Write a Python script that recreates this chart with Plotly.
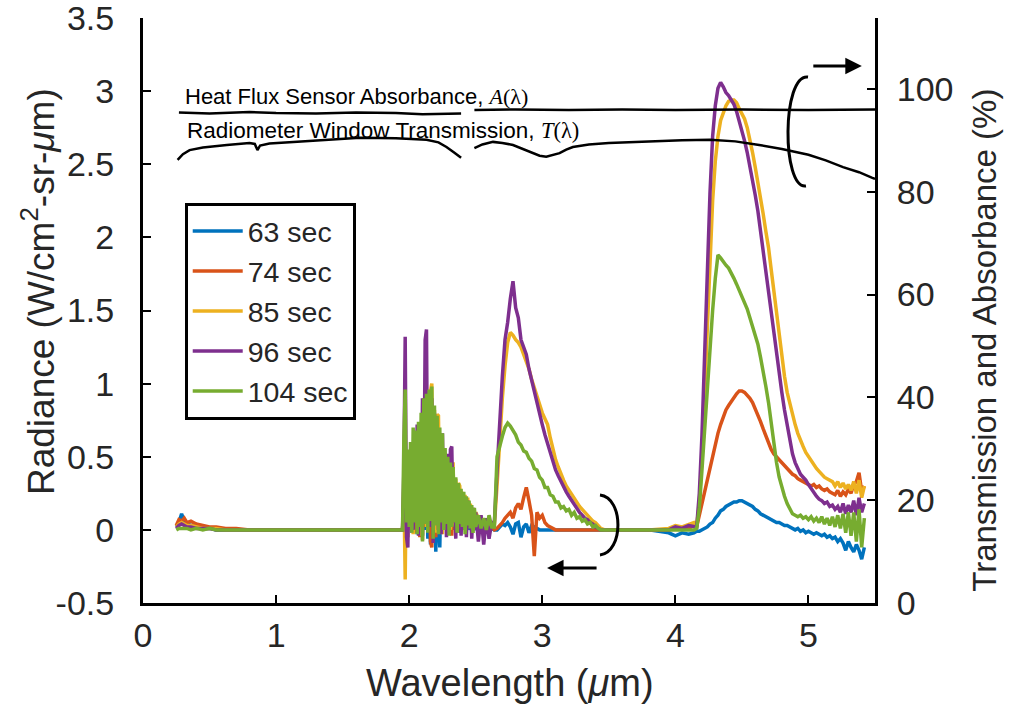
import plotly.graph_objects as go

# ---------------- wavelength grid (um), by spectral region ----------------
wl_a = [0.25, 0.27, 0.29, 0.31, 0.33, 0.36, 0.40, 0.45, 0.50, 0.55, 0.62, 0.70, 0.80, 0.90,
        1.20, 1.60, 1.94]
wl_b = [1.95, 1.96, 1.97, 1.98, 1.99, 2.00, 2.01, 2.02, 2.03, 2.04, 2.05, 2.06, 2.07, 2.08,
        2.09, 2.10, 2.11, 2.12, 2.13, 2.14, 2.15, 2.16, 2.17, 2.18, 2.19, 2.20, 2.21, 2.22,
        2.23, 2.24, 2.25, 2.26, 2.27, 2.28, 2.29, 2.30, 2.31, 2.32, 2.33, 2.34, 2.35, 2.36,
        2.37, 2.38, 2.39, 2.40, 2.41, 2.42, 2.43, 2.44, 2.45, 2.46, 2.47, 2.48, 2.49, 2.50,
        2.52, 2.54, 2.56, 2.58, 2.60, 2.62]
wl_c = [2.64, 2.66, 2.68, 2.70, 2.72, 2.74, 2.76, 2.78, 2.80, 2.82, 2.84, 2.86, 2.88, 2.90,
        2.92, 2.94, 2.96, 2.98, 3.00, 3.02, 3.04, 3.06, 3.08, 3.10, 3.12, 3.14, 3.16, 3.18,
        3.20, 3.22, 3.24, 3.26, 3.28, 3.30, 3.32, 3.34, 3.36, 3.38, 3.40, 3.42, 3.44]
wl_d = [3.47, 3.60, 3.80, 3.95, 4.00, 4.05, 4.10, 4.14]
wl_e = [4.16, 4.18, 4.20, 4.22, 4.24, 4.26, 4.28, 4.30, 4.32, 4.34, 4.36, 4.38, 4.40, 4.42,
        4.44, 4.46, 4.48, 4.50, 4.52, 4.54, 4.56, 4.58, 4.60, 4.62, 4.64, 4.66, 4.68, 4.70,
        4.72, 4.74, 4.76, 4.78, 4.80, 4.82, 4.84, 4.86, 4.88, 4.90, 4.92, 4.94, 4.96, 4.98,
        5.00, 5.02, 5.04, 5.06, 5.08, 5.10, 5.12, 5.14, 5.16, 5.18, 5.20, 5.22, 5.24, 5.26,
        5.28, 5.30, 5.32, 5.34, 5.36, 5.38, 5.40, 5.42]

# ---------------- radiance (W/cm2-sr-um) per time, per region ----------------
r63_a = [0.02, 0.05, 0.11, 0.06, 0.04, 0.03, 0.02, 0.01, 0.01, 0.00, 0.00, 0.00, 0.00, 0.00, 0.00, 0.00, 0.00]
r74_a = [0.03, 0.07, 0.06, 0.08, 0.05, 0.06, 0.04, 0.03, 0.02, 0.02, 0.01, 0.01, 0.00, 0.00, 0.00, 0.00, 0.00]
r85_a = [0.02, 0.04, 0.05, 0.04, 0.03, 0.03, 0.02, 0.01, 0.01, 0.01, 0.00, 0.00, 0.00, 0.00, 0.00, 0.00, 0.00]
r96_a = [0.01, 0.03, 0.04, 0.03, 0.02, 0.02, 0.01, 0.01, 0.01, 0.00, 0.00, 0.00, 0.00, 0.00, 0.00, 0.00, 0.00]
r104_a = [0.00, 0.01, 0.01, 0.01, 0.01, 0.00, 0.01, 0.00, 0.01, 0.00, 0.00, 0.00, 0.00, 0.00, 0.00, 0.00, 0.00]

r63_b = [0.00, 0.15, 0.30, 0.00, 0.30, 0.02, 0.35, -0.02, 0.40, 0.03, 0.42, -0.03, 0.45, 0.02,
         0.48, -0.04, 0.50, 0.00, 0.55, -0.06, 0.55, -0.10, 0.50, 0.02, 0.45, -0.15, 0.40, 0.03,
         -0.12, 0.35, 0.00, 0.30, 0.02, 0.25, -0.03, 0.22, 0.02, 0.20, 0.00, 0.18, 0.03, 0.15,
         -0.02, 0.12, 0.02, 0.10, 0.00, 0.08, 0.03, 0.07, 0.00, 0.05, 0.02, 0.04, 0.00, 0.03,
         0.02, 0.01, 0.03, 0.00, 0.02, 0.01]
r74_b = [0.00, 0.20, 0.40, 0.02, 0.35, 0.00, 0.40, 0.03, 0.45, -0.02, 0.50, 0.04, 0.55, -0.05,
         0.50, -0.07, 0.60, 0.02, 0.65, 0.05, 0.70, -0.08, -0.12, 0.60, 0.03, -0.05, 0.50, 0.02,
         0.45, -0.02, 0.40, 0.03, 0.35, 0.00, 0.30, 0.04, 0.28, -0.04, 0.25, 0.02, 0.20, 0.05,
         0.18, 0.01, 0.15, 0.03, 0.12, 0.00, 0.10, 0.02, 0.09, 0.03, 0.07, 0.00, 0.05, 0.02,
         0.02, 0.04, 0.00, 0.03, 0.01, 0.02]
r85_b = [0.00, 0.30, -0.34, 0.50, -0.05, 0.45, 0.02, 0.55, -0.03, 0.60, 0.05, 0.62, 0.00, 0.70,
         -0.04, 0.75, 0.05, 0.88, 0.02, 0.85, 0.06, 0.95, 1.00, 0.04, 0.82, -0.02, 0.79, 0.78,
         0.03, 0.60, -0.03, 0.55, 0.02, 0.50, 0.05, 0.46, 0.00, 0.45, 0.45, 0.03, 0.35, -0.02,
         0.32, 0.30, 0.04, 0.26, 0.02, 0.24, 0.00, 0.22, 0.03, 0.18, 0.01, 0.15, 0.03, 0.12,
         0.08, 0.02, 0.06, -0.02, 0.05, 0.02]
r96_b = [0.00, 0.40, 1.32, -0.05, -0.12, 0.45, 0.10, 0.55, 0.00, 0.62, 0.05, 0.72, -0.04, 0.65,
         0.10, 0.90, 0.20, 1.30, 1.37, 0.05, 0.85, 0.02, 0.90, -0.09, 0.80, 0.05, 0.70, 0.00,
         0.62, -0.03, 0.66, 0.04, 0.50, -0.05, 0.52, 0.02, 0.55, 0.57, 0.05, 0.30, -0.06, 0.28,
         0.03, 0.26, -0.04, 0.24, 0.02, 0.22, -0.05, 0.20, 0.02, 0.17, -0.06, 0.15, 0.00, 0.12,
         -0.08, 0.10, -0.10, 0.08, -0.06, 0.05]
r104_b = [0.00, 0.62, 0.96, 0.05, 0.55, 0.02, 0.60, -0.02, 0.70, 0.05, 0.68, -0.03, 0.74, 0.02,
          0.80, -0.08, 0.90, 0.04, 0.93, -0.02, 0.96, 0.06, 0.98, -0.06, 0.85, 0.03, 0.78, -0.03,
          0.70, 0.05, 0.66, 0.00, 0.56, 0.04, 0.50, -0.04, 0.46, 0.02, 0.43, 0.05, 0.36, -0.02,
          0.32, 0.04, 0.28, 0.02, 0.26, -0.03, 0.23, 0.03, 0.20, 0.01, 0.17, -0.02, 0.15, 0.02,
          0.10, 0.01, 0.08, 0.00, 0.10, 0.02]

r63_c = [0.00, 0.00, 0.02, 0.04, 0.03, 0.05, 0.02, -0.03, 0.04, 0.05, -0.05, 0.02, 0.04, -0.02,
         0.03, 0.02, 0.01, 0.00, 0.00, 0.00, 0.00, 0.00, 0.00, 0.00, 0.00, 0.00, 0.00, 0.00,
         0.00, 0.00, 0.00, 0.00, 0.00, 0.00, 0.00, 0.00, 0.00, 0.00, 0.00, 0.00, 0.00]
r74_c = [0.00, 0.01, 0.03, 0.05, 0.08, 0.10, 0.12, 0.08, 0.15, 0.18, 0.14, 0.22, 0.29, 0.20,
         0.10, -0.18, 0.12, 0.08, 0.10, 0.05, 0.03, 0.02, 0.01, 0.00, 0.00, 0.00, 0.00, 0.00,
         0.00, 0.00, 0.00, 0.00, 0.00, 0.00, 0.00, 0.00, 0.00, 0.00, 0.00, 0.00, 0.00]
r85_c = [0.03, 0.30, 0.62, 0.90, 1.12, 1.28, 1.35, 1.33, 1.30, 1.28, 1.25, 1.20, 1.16, 1.10,
         1.03, 0.97, 0.90, 0.85, 0.80, 0.76, 0.72, 0.63, 0.55, 0.48, 0.43, 0.38, 0.34, 0.30,
         0.27, 0.24, 0.21, 0.18, 0.16, 0.14, 0.12, 0.10, 0.08, 0.06, 0.05, 0.03, 0.01]
r96_c = [0.05, 0.40, 0.75, 1.05, 1.30, 1.42, 1.58, 1.70, 1.52, 1.45, 1.30, 1.24, 1.20, 1.10,
         1.02, 0.95, 0.87, 0.80, 0.72, 0.65, 0.59, 0.52, 0.46, 0.41, 0.37, 0.33, 0.29, 0.26,
         0.23, 0.20, 0.17, 0.15, 0.12, 0.10, 0.08, 0.07, 0.05, 0.04, 0.02, 0.01, 0.00]
r104_c = [0.02, 0.50, 0.58, 0.64, 0.70, 0.73, 0.71, 0.68, 0.65, 0.60, 0.58, 0.54, 0.53, 0.49,
          0.47, 0.42, 0.41, 0.36, 0.34, 0.29, 0.29, 0.24, 0.23, 0.19, 0.19, 0.15, 0.16, 0.13,
          0.14, 0.10, 0.12, 0.08, 0.09, 0.06, 0.07, 0.04, 0.05, 0.02, 0.03, 0.01, 0.00]

r63_d = [0.00, 0.00, 0.00, -0.02, -0.04, -0.02, -0.03, -0.02]
r74_d = [0.00, 0.00, 0.00, 0.00, 0.01, 0.02, 0.01, 0.03]
r85_d = [0.00, 0.00, 0.00, 0.01, 0.03, 0.02, 0.04, 0.05]
r96_d = [0.00, 0.00, 0.00, 0.00, 0.02, 0.01, 0.03, 0.02]
r104_d = [0.00, 0.00, 0.00, 0.00, 0.00, 0.00, 0.00, 0.00]

r63_e = [-0.01, -0.01, 0.00, 0.01, 0.02, 0.04, 0.05, 0.08, 0.10, 0.13,
         0.14, 0.16, 0.17, 0.18, 0.19, 0.19, 0.20, 0.20, 0.19, 0.18,
         0.17, 0.16, 0.14, 0.13, 0.11, 0.10, 0.09, 0.08, 0.07, 0.06,
         0.05, 0.05, 0.04, 0.03, 0.03, 0.02, 0.01, 0.00, 0.01, -0.01,
         0.00, -0.02, -0.01, -0.02, -0.03, -0.02, -0.03, -0.04, -0.03, -0.05,
         -0.04, -0.06, -0.05, -0.08, -0.06, -0.09, -0.14, -0.08, -0.12, -0.15,
         -0.10, -0.14, -0.20, -0.12]
r74_e = [0.02, 0.10, 0.18, 0.27, 0.35, 0.44, 0.52, 0.59, 0.66, 0.72,
         0.78, 0.82, 0.85, 0.88, 0.91, 0.93, 0.95, 0.95, 0.94, 0.92,
         0.90, 0.87, 0.83, 0.79, 0.74, 0.69, 0.64, 0.59, 0.55, 0.52,
         0.50, 0.48, 0.46, 0.44, 0.42, 0.40, 0.38, 0.37, 0.35, 0.34,
         0.33, 0.32, 0.31, 0.30, 0.31, 0.29, 0.30, 0.28, 0.27, 0.28,
         0.26, 0.25, 0.24, 0.27, 0.23, 0.26, 0.24, 0.28, 0.25, 0.31,
         0.33, 0.39, 0.26, 0.30]
r85_e = [0.03, 0.18, 0.50, 0.95, 1.45, 1.90, 2.25, 2.52, 2.69, 2.80,
         2.86, 2.90, 2.93, 2.94, 2.94, 2.92, 2.88, 2.85, 2.81, 2.75,
         2.67, 2.58, 2.48, 2.38, 2.27, 2.16, 2.04, 1.93, 1.78, 1.63,
         1.49, 1.35, 1.20, 1.05, 0.94, 0.86, 0.78, 0.72, 0.66, 0.61,
         0.57, 0.53, 0.50, 0.47, 0.44, 0.42, 0.40, 0.38, 0.36, 0.35,
         0.34, 0.33, 0.30, 0.33, 0.29, 0.32, 0.28, 0.31, 0.27, 0.33,
         0.25, 0.34, 0.22, 0.30]
r96_e = [0.02, 0.25, 0.65, 1.20, 1.80, 2.30, 2.69, 2.90, 3.02, 3.06,
         3.03, 2.99, 2.97, 2.94, 2.91, 2.86, 2.80, 2.73, 2.66, 2.58,
         2.49, 2.39, 2.29, 2.18, 2.04, 1.89, 1.76, 1.62, 1.48, 1.35,
         1.21, 1.08, 0.94, 0.82, 0.71, 0.61, 0.52, 0.46, 0.42, 0.38,
         0.36, 0.34, 0.31, 0.28, 0.25, 0.23, 0.21, 0.20, 0.18, 0.19,
         0.16, 0.17, 0.14, 0.16, 0.12, 0.18, 0.11, 0.17, 0.12, 0.20,
         0.10, 0.22, 0.12, 0.18]
r104_e = [0.01, 0.15, 0.41, 0.70, 0.98, 1.25, 1.50, 1.72, 1.88, 1.86,
          1.83, 1.81, 1.79, 1.76, 1.72, 1.68, 1.64, 1.60, 1.56, 1.51,
          1.45, 1.39, 1.33, 1.27, 1.18, 1.09, 0.98, 0.87, 0.73, 0.59,
          0.46, 0.36, 0.29, 0.23, 0.18, 0.14, 0.11, 0.10, 0.09, 0.10,
          0.08, 0.09, 0.07, 0.09, 0.06, 0.08, 0.05, 0.09, 0.04, 0.08,
          0.03, 0.09, 0.02, 0.10, 0.01, 0.11, -0.02, 0.12, -0.04, 0.12,
          -0.08, 0.14, -0.12, 0.08]

# ---------------- heat-flux sensor absorbance A and window transmission T (%) ----------------
absorb_wl_1 = [0.27, 0.50, 0.80, 1.00, 1.30, 1.60, 1.90, 2.10, 2.39]
absorb_pct_1 = [95.4, 95.2, 95.5, 95.3, 95.2, 95.4, 95.3, 95.1, 95.2]
absorb_wl_2 = [2.49, 2.80, 3.20, 3.60, 4.00, 4.50, 5.00, 5.50]
absorb_pct_2 = [95.9, 96.0, 95.9, 96.0, 95.9, 96.0, 95.9, 96.0]
trans_wl_1 = [0.26, 0.30, 0.35, 0.45, 0.63, 0.80, 0.84, 0.86, 0.88, 0.95, 1.13, 1.40, 1.63,
              1.90, 2.13, 2.22, 2.28, 2.34, 2.39]
trans_pct_1 = [86.2, 87.3, 88.1, 88.6, 89.1, 89.5, 89.3, 88.1, 89.0, 89.4, 89.7, 90.1, 90.5,
               90.4, 90.1, 89.6, 88.7, 87.6, 86.6]
trans_wl_2 = [2.49, 2.55, 2.63, 2.70, 2.78, 2.86, 2.93, 2.98, 3.03, 3.08, 3.13, 3.18, 3.23,
              3.35, 3.50, 3.70, 3.88, 4.05, 4.26, 4.45, 4.63, 4.80, 5.00, 5.13, 5.26, 5.38,
              5.48, 5.50]
trans_pct_2 = [88.5, 89.2, 89.7, 89.5, 89.1, 88.3, 87.5, 87.0, 86.8, 87.1, 87.5, 88.2, 88.7,
               89.2, 89.5, 89.7, 89.9, 90.0, 90.1, 89.8, 89.1, 88.3, 87.2, 86.1, 84.8, 83.8,
               82.7, 82.5]

series_names = ["63 sec", "74 sec", "85 sec", "96 sec", "104 sec"]
series_colors = ["#0072BD", "#D95319", "#EDB120", "#7E2F8E", "#77AC30"]

x_ticks = [0, 1, 2, 3, 4, 5]
y_ticks = [-0.5, 0, 0.5, 1, 1.5, 2, 2.5, 3, 3.5]
y_tick_text = ["-0.5", "0", "0.5", "1", "1.5", "2", "2.5", "3", "3.5"]
y2_ticks = [0, 20, 40, 60, 80, 100]
y2_tick_text = ["0", "20", "40", "60", "80", "100"]

wl = wl_a + wl_b + wl_c + wl_d + wl_e
radiance = [
    r63_a + r63_b + r63_c + r63_d + r63_e,
    r74_a + r74_b + r74_c + r74_d + r74_e,
    r85_a + r85_b + r85_c + r85_d + r85_e,
    r96_a + r96_b + r96_c + r96_d + r96_e,
    r104_a + r104_b + r104_c + r104_d + r104_e,
]
for r in radiance:
    assert len(r) == len(wl), (len(r), len(wl))

FONT = "Liberation Sans, Arial, sans-serif"
TXT = "#262626"

fig = go.Figure()
for name, color, vals in zip(series_names, series_colors, radiance):
    fig.add_trace(go.Scatter(x=wl, y=vals, mode="lines", name=name,
                             line=dict(color=color, width=3.5), legendgroup=name))

for xs, ys in [(absorb_wl_1, absorb_pct_1), (absorb_wl_2, absorb_pct_2),
               (trans_wl_1, trans_pct_1), (trans_wl_2, trans_pct_2)]:
    fig.add_trace(go.Scatter(x=xs, y=ys, mode="lines", yaxis="y2", showlegend=False,
                             line=dict(color="black", width=2.5)))

axis_common = dict(showgrid=False, zeroline=False, showline=True, linecolor="black",
                   linewidth=3, ticks="inside", ticklen=8, tickwidth=2, tickcolor="black",
                   automargin=False, ticklabeloverflow="allow",
                   tickfont=dict(size=34, color=TXT, family=FONT))

fig.update_layout(
    width=1010, height=714,
    margin=dict(l=143, r=135, t=18, b=111, pad=0, autoexpand=False),
    paper_bgcolor="white", plot_bgcolor="white",
    font=dict(family=FONT, color=TXT),
    xaxis=dict(range=[0, 5.5], tickvals=x_ticks, **axis_common),
    yaxis=dict(range=[-0.5, 3.5], tickvals=y_ticks, ticktext=y_tick_text,
               ticklabelstandoff=19, **axis_common),
    yaxis2=dict(range=[0, 113.8], tickvals=y2_ticks, ticktext=y2_tick_text,
                overlaying="y", side="right", ticklabelstandoff=12, **axis_common),
    legend=dict(x=0.057, y=0.684, xanchor="left", yanchor="top", bgcolor="white",
                bordercolor="black", borderwidth=3, font=dict(size=28.5, color=TXT, family=FONT),
                itemwidth=50, tracegroupgap=0),
)

annotations = [
    dict(text="Wavelength (<i>μ</i>m)", x=0.5014, y=-0.1368, xref="paper", yref="paper",
         showarrow=False, font=dict(size=38, color=TXT), xanchor="center", yanchor="middle"),
    dict(text="Radiance (W/cm<sup>2</sup>-sr-<i>μ</i>m)", x=-0.1434, y=0.5316, xref="paper",
         yref="paper", showarrow=False, textangle=-90, font=dict(size=37, color=TXT),
         xanchor="center", yanchor="middle"),
    dict(text="Transmission and Absorbance (%)", x=1.150, y=0.4496, xref="paper", yref="paper",
         showarrow=False, textangle=-90, font=dict(size=33, color=TXT),
         xanchor="center", yanchor="middle"),
    dict(text="Heat Flux Sensor Absorbance, <span style='font-family:Liberation Serif'><i>A</i>(λ)</span>",
         x=0.0546, y=0.865, xref="paper", yref="paper", showarrow=False,
         font=dict(size=22, color="black"), xanchor="left", yanchor="middle"),
    dict(text="Radiometer Window Transmission, <span style='font-family:Liberation Serif'><i>T</i>(λ)</span>",
         x=0.0574, y=0.8085, xref="paper", yref="paper", showarrow=False,
         font=dict(size=22.5, color="black"), xanchor="left", yanchor="middle"),
    # arrows pointing to the relevant axis
    dict(text="", x=0.982, y=0.918, xref="paper", yref="paper", showarrow=True,
         ax=-50, ay=0, arrowhead=2, arrowsize=1.1, arrowwidth=3, arrowcolor="black"),
    dict(text="", x=0.552, y=0.0598, xref="paper", yref="paper", showarrow=True,
         ax=51, ay=0, arrowhead=2, arrowsize=1.1, arrowwidth=3, arrowcolor="black"),
]
fig.update_layout(annotations=annotations)

fig.update_layout(shapes=[
    dict(type="path", xref="paper", yref="paper", layer="above",
         path="M 0.9085,0.8991 C 0.8725,0.905 0.8725,0.707 0.9057,0.7128",
         line=dict(color="black", width=3)),
    dict(type="path", xref="paper", yref="paper", layer="above",
         path="M 0.6243,0.1846 C 0.657,0.18 0.657,0.087 0.6243,0.0821",
         line=dict(color="black", width=3)),
])

fig.write_html("out.html")
